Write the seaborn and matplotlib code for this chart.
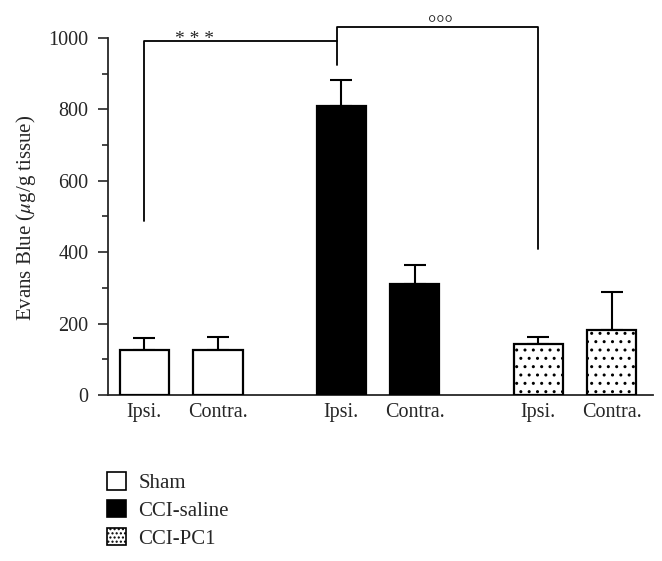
import pandas as pd
import seaborn as sns
import matplotlib.pyplot as plt
from matplotlib.patches import Patch
from matplotlib.ticker import MultipleLocator

# values (mean and SEM, ug/g tissue)
groups = ["Sham", "CCI-saline", "CCI-PC1"]
sides = ["Ipsi.", "Contra."]
ipsi_mean = [126, 810, 144]
ipsi_sem = [33, 72, 19]
contra_mean = [125, 311, 182]
contra_sem = [36, 53, 107]

df = pd.DataFrame({
    "group": groups * 2,
    "side": ["Ipsi."] * 3 + ["Contra."] * 3,
    "value": ipsi_mean + contra_mean,
    "sem": ipsi_sem + contra_sem,
})

sns.set_style("ticks")
plt.rcParams["font.family"] = ["Liberation Serif", "DejaVu Serif"]
plt.rcParams["mathtext.fontset"] = "stix"
plt.rcParams["hatch.linewidth"] = 1.0

fig = plt.figure(figsize=(6.62, 5.61), dpi=100)
ax = fig.add_axes([0.1631, 0.296, 0.8233, 0.662])

sns.barplot(data=df, x="group", y="value", hue="side", order=groups,
            hue_order=sides, palette={"Ipsi.": "white", "Contra.": "white"},
            errorbar=None, width=0.75, gap=0.336, dodge=True, legend=False,
            edgecolor="black", linewidth=1.6, ax=ax)

faces = {"Sham": "white", "CCI-saline": "black", "CCI-PC1": "white"}
hatches = {"Sham": "", "CCI-saline": "", "CCI-PC1": ".."}

centers = {}
for side, cont in zip(sides, ax.containers):
    for g, bar in zip(groups, cont.patches):
        bar.set_facecolor(faces[g])
        bar.set_hatch(hatches[g])
        bar.set_zorder(3)
        centers[(g, side)] = bar.get_x() + bar.get_width() / 2

# one-sided error bars
xs = [centers[(g, s)] for s, g in zip(df["side"], df["group"])]
ax.errorbar(xs, df["value"], yerr=[[0] * len(df), df["sem"]], fmt="none",
            ecolor="black", elinewidth=1.5, capsize=8, capthick=1.5, zorder=2)

# significance brackets
x_sham = centers[("Sham", "Ipsi.")]
x_cci = centers[("CCI-saline", "Ipsi.")] - 0.02
x_pc1 = centers[("CCI-PC1", "Ipsi.")]
ax.plot([x_sham, x_sham, x_cci, x_cci], [488, 992, 992, 924], color="black",
        lw=1.3, clip_on=False)
ax.plot([x_cci, x_cci, x_pc1, x_pc1], [992, 1031, 1031, 409], color="black",
        lw=1.3, clip_on=False)
ax.text(0.066, 972, "* * *", ha="center", va="bottom", fontsize=14)
ax.text(1.315, 1008, "°°°", ha="center", va="bottom", fontsize=15)

ax.set_xlim(-0.371, 2.396)
ax.set_ylim(0, 1040)
ax.set_xticks([centers[(g, s)] for g in groups for s in sides])
ax.set_xticklabels([s for g in groups for s in sides], fontsize=14.5)
ax.tick_params(axis="x", length=0, pad=6)
ax.set_yticks([0, 200, 400, 600, 800, 1000])
ax.yaxis.set_minor_locator(MultipleLocator(100))
ax.tick_params(axis="y", which="major", length=7, width=1.2, labelsize=14.5, pad=7)
ax.tick_params(axis="y", which="minor", length=4.5, width=1.2)
ax.spines["left"].set_bounds(0, 1000)
for s in ["left", "bottom"]:
    ax.spines[s].set_linewidth(1.3)
sns.despine(ax=ax)
ax.set_xlabel("")
ax.set_ylabel(r"Evans Blue ($\mu$g/g tissue)", fontsize=15)
ax.yaxis.set_label_coords(-0.128, 0.477)

handles = [Patch(facecolor=faces[g], edgecolor="black", hatch=hatches[g] * 2,
                 linewidth=1.2) for g in groups]
fig.legend(handles, groups, loc="upper left", bbox_to_anchor=(0.1616, 0.158),
           frameon=False, fontsize=15, handlelength=0.9, handleheight=0.9,
           handletextpad=0.6, labelspacing=0.33, borderpad=0, borderaxespad=0)

fig.savefig("out.png", dpi=100)
